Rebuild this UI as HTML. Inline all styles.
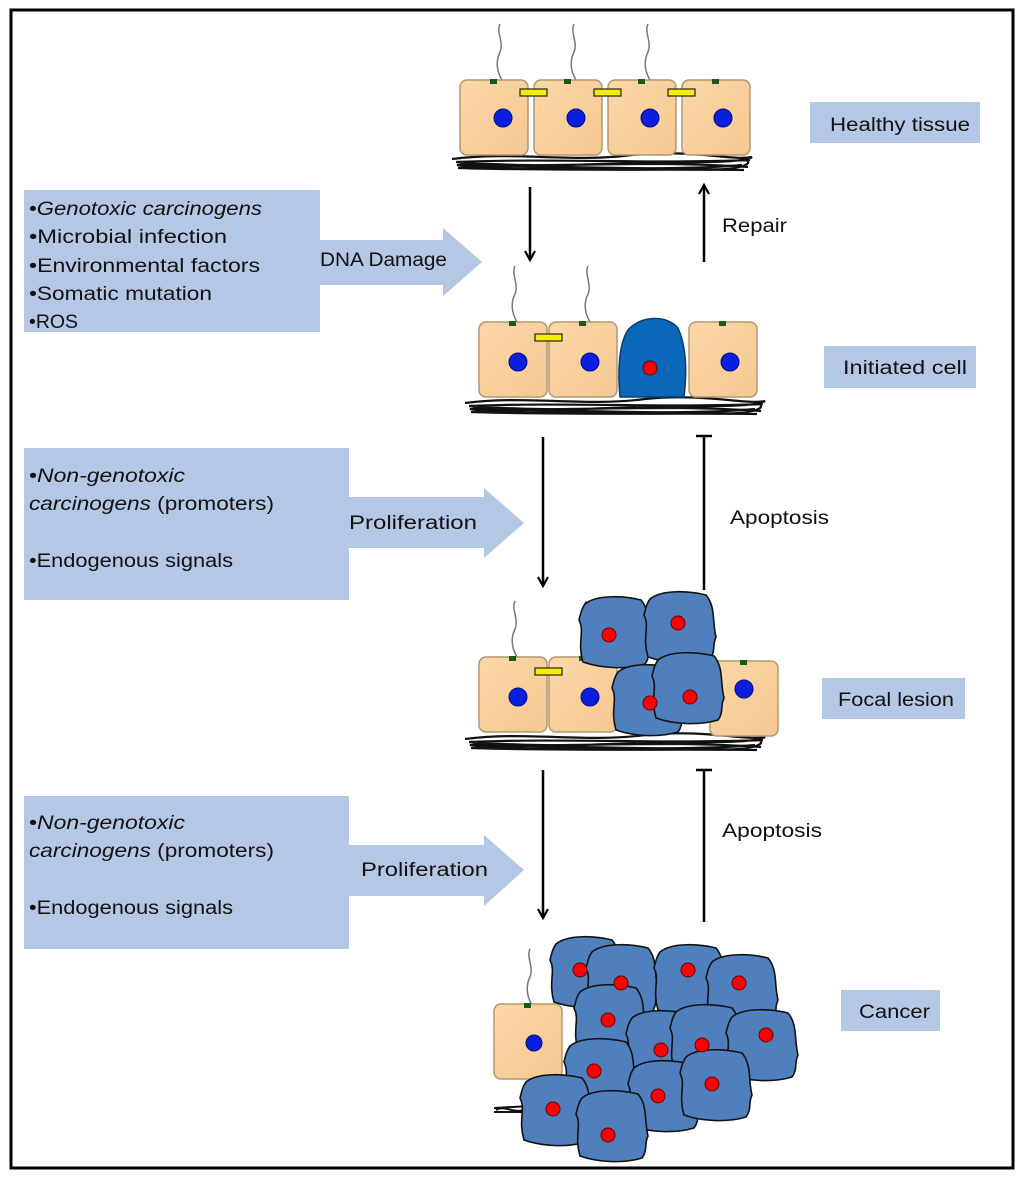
<!DOCTYPE html>
<html><head><meta charset="utf-8"><style>
body{margin:0;background:#fff;}
svg{display:block;font-family:"Liberation Sans",sans-serif;}
</style></head><body>
<svg width="1024" height="1180" viewBox="0 0 1024 1180" xmlns="http://www.w3.org/2000/svg">
<defs>
<linearGradient id="tg" x1="0" y1="0" x2="1" y2="1"><stop offset="0" stop-color="#fcd7a8"/><stop offset="1" stop-color="#f5c891"/></linearGradient>
<symbol id="cell" overflow="visible">
<rect x="0" y="0" width="68" height="75" rx="7" fill="url(#tg)" stroke="#b39770" stroke-width="1.5"/>
<rect x="30" y="-1" width="7" height="5" fill="#1c5a1c"/>
</symbol>
<symbol id="cil" overflow="visible">
<path d="M0,0 C-6,-10 -6,-20 -2,-28 C2,-38 -6,-48 -2,-56" fill="none" stroke="#777" stroke-width="1.5"/>
</symbol>
<symbol id="blob" overflow="visible">
<path d="M-30,-28 C-18,-38 10,-36 26,-32 C36,-20 32,-5 36,10 C32,18 36,24 30,32 C10,38 -15,36 -32,30 C-38,10 -30,0 -36,-12 C-34,-20 -33,-24 -30,-28 Z" fill="#4f7fbd" stroke="#111" stroke-width="1.6"/>
</symbol>
<symbol id="mem" overflow="visible">
<path d="M0,4 C60,-4 120,8 180,0 C240,-6 280,6 300,2 C290,10 200,6 120,10 C60,12 20,6 5,10 C40,16 150,12 250,14 C290,16 300,8 295,6 M10,12 C80,8 200,18 290,10 M4,7 C100,3 200,9 298,5 M8,9 C100,13 200,5 296,12 M6,13 C100,16 200,14 292,15" fill="none" stroke="#111" stroke-width="2.2"/>
</symbol>
<marker id="ah" markerWidth="12" markerHeight="12" refX="10" refY="6" orient="auto" markerUnits="userSpaceOnUse"><path d="M1,1 L10,6 L1,11" fill="none" stroke="#000" stroke-width="2.2"/></marker>
</defs>
<rect x="11" y="10" width="1002" height="1158" fill="#fff" stroke="#000" stroke-width="3"/>

<g fill="#b4c7e4">
<rect x="24" y="190" width="296" height="142"/>
<path d="M320,240 L443,240 L443,228 L482,262 L443,296 L443,285 L320,285 Z"/>
<rect x="24" y="448" width="325" height="152"/>
<path d="M349,497 L484,497 L484,488 L524,523 L484,558 L484,548 L349,548 Z"/>
<rect x="24" y="796" width="325" height="153"/>
<path d="M349,845 L484,845 L484,835 L524,870 L484,906 L484,896 L349,896 Z"/>
<rect x="810" y="102" width="170" height="41"/>
<rect x="824" y="346" width="152" height="42"/>
<rect x="822" y="678" width="143" height="41"/>
<rect x="841" y="990" width="99" height="41"/>
</g>
<g font-size="19" fill="#111" lengthAdjust="spacingAndGlyphs">
<text x="29" y="215" textLength="233" lengthAdjust="spacingAndGlyphs">•<tspan font-style="italic">Genotoxic carcinogens</tspan></text>
<text x="29" y="243" textLength="198" lengthAdjust="spacingAndGlyphs">•Microbial infection</text>
<text x="29" y="272" textLength="231" lengthAdjust="spacingAndGlyphs">•Environmental factors</text>
<text x="29" y="300" textLength="183" lengthAdjust="spacingAndGlyphs">•Somatic mutation</text>
<text x="29" y="328" textLength="49" lengthAdjust="spacingAndGlyphs">•ROS</text>
<text x="320" y="266" textLength="127" lengthAdjust="spacingAndGlyphs">DNA Damage</text>
<text x="29" y="482" textLength="156" lengthAdjust="spacingAndGlyphs">•<tspan font-style="italic">Non-genotoxic</tspan></text>
<text x="29" y="510" textLength="245" lengthAdjust="spacingAndGlyphs"><tspan font-style="italic">carcinogens</tspan> (promoters)</text>
<text x="29" y="567" textLength="204" lengthAdjust="spacingAndGlyphs">•Endogenous signals</text>
<text x="349" y="529" textLength="128" lengthAdjust="spacingAndGlyphs">Proliferation</text>
<text x="29" y="829" textLength="156" lengthAdjust="spacingAndGlyphs">•<tspan font-style="italic">Non-genotoxic</tspan></text>
<text x="29" y="857" textLength="245" lengthAdjust="spacingAndGlyphs"><tspan font-style="italic">carcinogens</tspan> (promoters)</text>
<text x="29" y="914" textLength="204" lengthAdjust="spacingAndGlyphs">•Endogenous signals</text>
<text x="361" y="876" textLength="127" lengthAdjust="spacingAndGlyphs">Proliferation</text>
<text x="830" y="131" textLength="140" lengthAdjust="spacingAndGlyphs">Healthy tissue</text>
<text x="843" y="374" textLength="124" lengthAdjust="spacingAndGlyphs">Initiated cell</text>
<text x="838" y="706" textLength="116" lengthAdjust="spacingAndGlyphs">Focal lesion</text>
<text x="859" y="1018" textLength="71" lengthAdjust="spacingAndGlyphs">Cancer</text>
<text x="722" y="232" textLength="65" lengthAdjust="spacingAndGlyphs">Repair</text>
<text x="730" y="524" textLength="99" lengthAdjust="spacingAndGlyphs">Apoptosis</text>
<text x="722" y="837" textLength="100" lengthAdjust="spacingAndGlyphs">Apoptosis</text>
</g>

<g stroke="#000" stroke-width="2.5" fill="none">
<line x1="530" y1="187" x2="530" y2="260" marker-end="url(#ah)"/>
<line x1="704" y1="262" x2="704" y2="185" marker-end="url(#ah)"/>
<line x1="543" y1="437" x2="543" y2="586" marker-end="url(#ah)"/>
<line x1="704" y1="590" x2="704" y2="436"/><line x1="696" y1="436" x2="712" y2="436"/>
<line x1="543" y1="770" x2="543" y2="918" marker-end="url(#ah)"/>
<line x1="704" y1="922" x2="704" y2="770"/><line x1="696" y1="770" x2="712" y2="770"/>
</g>

<use href="#mem" x="452" y="155"/>
<use href="#cil" x="502" y="80"/><use href="#cil" x="576" y="80"/><use href="#cil" x="650" y="80"/>
<use href="#cell" x="460" y="80"/><use href="#cell" x="534" y="80"/><use href="#cell" x="608" y="80"/><use href="#cell" x="682" y="80"/>
<g fill="#0a1ee0" stroke="#001080"><circle cx="503" cy="118" r="9"/><circle cx="576" cy="118" r="9"/><circle cx="650" cy="118" r="9"/><circle cx="723" cy="118" r="9"/></g>
<g fill="#f5ee00" stroke="#222" stroke-width="1.2"><rect x="520" y="89" width="27" height="7"/><rect x="594" y="89" width="27" height="7"/><rect x="668" y="89" width="27" height="7"/></g>

<use href="#mem" x="465" y="399"/>
<use href="#cil" x="517" y="322"/><use href="#cil" x="590" y="322"/>
<use href="#cell" x="479" y="322"/><use href="#cell" x="549" y="322"/><use href="#cell" x="689" y="322"/>
<path d="M628,330 C640,316 666,314 678,328 C688,350 686,380 684,397 L620,397 C618,375 618,345 628,330 Z" fill="#0b67b8" stroke="#083a70" stroke-width="1.5"/>
<g fill="#0a1ee0" stroke="#001080"><circle cx="518" cy="362" r="9"/><circle cx="590" cy="362" r="9"/><circle cx="730" cy="362" r="9"/></g>
<circle cx="650" cy="368" r="7" fill="#f00" stroke="#600"/>
<rect x="535" y="334" width="27" height="7" fill="#f5ee00" stroke="#222" stroke-width="1.2"/>

<use href="#mem" x="465" y="735"/>
<use href="#cil" x="517" y="657"/><use href="#cil" x="588" y="657"/>
<use href="#cell" x="479" y="657"/><use href="#cell" x="549" y="657"/><use href="#cell" x="710" y="661"/>
<use href="#blob" x="615" y="632"/><use href="#blob" x="680" y="627"/><use href="#blob" x="648" y="700"/><use href="#blob" x="688" y="688"/>
<g fill="#f00" stroke="#600"><circle cx="609" cy="635" r="7"/><circle cx="678" cy="623" r="7"/><circle cx="650" cy="703" r="7"/><circle cx="690" cy="697" r="7"/></g>
<g fill="#0a1ee0" stroke="#001080"><circle cx="518" cy="697" r="9"/><circle cx="590" cy="697" r="9"/><circle cx="744" cy="689" r="9"/></g>
<rect x="535" y="668" width="27" height="7" fill="#f5ee00" stroke="#222" stroke-width="1.2"/>

<path d="M494,1108 L530,1106 M494,1112 L530,1112 M496,1110 C505,1104 515,1116 528,1108" stroke="#111" stroke-width="2" fill="none"/>
<use href="#cil" x="532" y="1005"/>
<use href="#cell" x="494" y="1004"/>
<circle cx="534" cy="1043" r="8" fill="#0a1ee0" stroke="#001080"/>
<g>
<use href="#blob" x="586" y="972"/><use href="#blob" x="622" y="980"/>
<use href="#blob" x="610" y="1020"/><use href="#blob" x="690" y="980"/><use href="#blob" x="742" y="990"/>
<use href="#blob" x="662" y="1046"/><use href="#blob" x="706" y="1040"/><use href="#blob" x="762" y="1045"/>
<use href="#blob" x="600" y="1074"/><use href="#blob" x="664" y="1096"/><use href="#blob" x="716" y="1085"/>
<use href="#blob" x="556" y="1110"/><use href="#blob" x="612" y="1126"/>
</g>
<g fill="#f00" stroke="#600">
<circle cx="580" cy="970" r="7"/><circle cx="621" cy="983" r="7"/><circle cx="688" cy="970" r="7"/><circle cx="739" cy="983" r="7"/>
<circle cx="608" cy="1020" r="7"/><circle cx="661" cy="1050" r="7"/><circle cx="702" cy="1045" r="7"/><circle cx="766" cy="1035" r="7"/>
<circle cx="594" cy="1071" r="7"/><circle cx="658" cy="1096" r="7"/><circle cx="712" cy="1084" r="7"/><circle cx="553" cy="1109" r="7"/><circle cx="608" cy="1135" r="7"/>
</g>
</svg>
</body></html>
